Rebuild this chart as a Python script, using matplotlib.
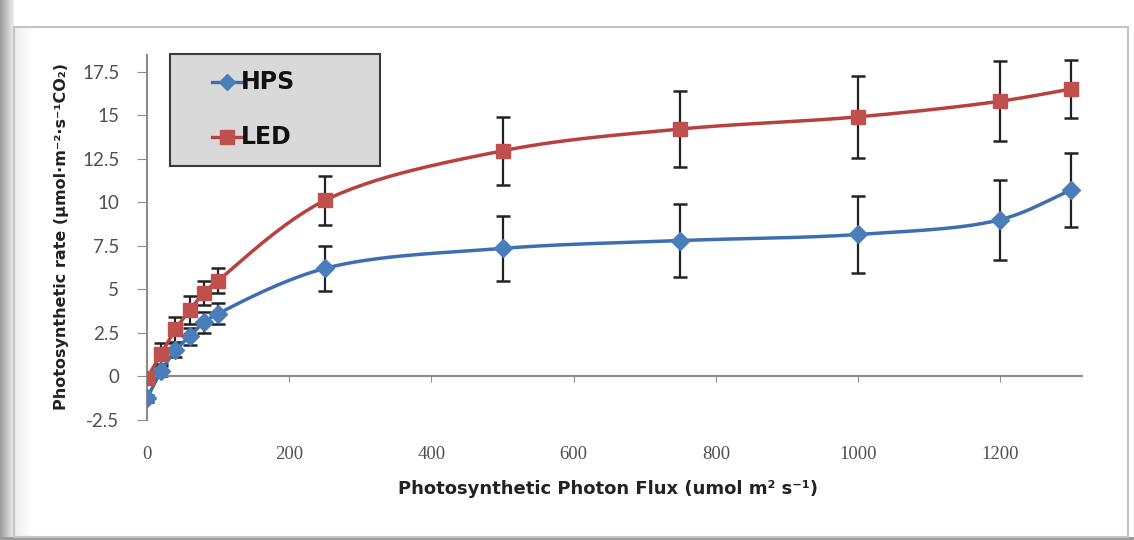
import numpy as np
import matplotlib
matplotlib.use('Agg')
import matplotlib.pyplot as plt
from matplotlib.lines import Line2D
from matplotlib.patches import Rectangle
from matplotlib.transforms import blended_transform_factory

# photon flux levels
ppf = [0, 20, 40, 60, 80, 100, 250, 500, 750, 1000, 1200, 1300]

hps = [-1.25, 0.3, 1.5, 2.3, 3.1, 3.6, 6.2, 7.35, 7.8, 8.15, 9.0, 10.7]
hps_err = [0.2, 0.3, 0.4, 0.5, 0.6, 0.6, 1.3, 1.85, 2.1, 2.2, 2.3, 2.1]

led = [-0.1, 1.3, 2.7, 3.8, 4.8, 5.5, 10.1, 12.95, 14.2, 14.9, 15.8, 16.5]
led_err = [0.3, 0.6, 0.7, 0.8, 0.7, 0.7, 1.4, 1.95, 2.2, 2.35, 2.3, 1.65]

x_ticks = [0, 200, 400, 600, 800, 1000, 1200]
y_ticks = [-2.5, 0, 2.5, 5, 7.5, 10, 12.5, 15, 17.5]

W, H = 1134, 540
XMAX, YMIN, YMAX = 1315, -2.5, 18.45
AX_L, AX_R, AX_T, AX_B = 147, 1082, 55, 420

BLUE = '#4a7ebb'
BLUE_LINE = '#3d6fb0'
RED = '#c0504d'
RED_LINE = '#b8413e'


def fx(px):
    return px / W


def fy(py):
    return 1 - py / H


def smooth(xs, ys, n=30):
    # centripetal catmull-rom through the points, done in pixel space
    sx = (AX_R - AX_L) / XMAX
    sy = (AX_B - AX_T) / (YMAX - YMIN)
    P = np.column_stack([np.array(xs) * sx, np.array(ys) * sy])
    P = np.vstack([2 * P[0] - P[1], P, 2 * P[-1] - P[-2]])
    out = []
    for i in range(1, len(P) - 2):
        p0, p1, p2, p3 = P[i - 1], P[i], P[i + 1], P[i + 2]
        t0 = 0.0
        t1 = t0 + np.linalg.norm(p1 - p0) ** 0.5
        t2 = t1 + np.linalg.norm(p2 - p1) ** 0.5
        t3 = t2 + np.linalg.norm(p3 - p2) ** 0.5
        t = np.linspace(t1, t2, n)[:, None]
        a1 = (t1 - t) / (t1 - t0) * p0 + (t - t0) / (t1 - t0) * p1
        a2 = (t2 - t) / (t2 - t1) * p1 + (t - t1) / (t2 - t1) * p2
        a3 = (t3 - t) / (t3 - t2) * p2 + (t - t2) / (t3 - t2) * p3
        b1 = (t2 - t) / (t2 - t0) * a1 + (t - t0) / (t2 - t0) * a2
        b2 = (t3 - t) / (t3 - t1) * a2 + (t - t1) / (t3 - t1) * a3
        c = (t2 - t) / (t2 - t1) * b1 + (t - t1) / (t2 - t1) * b2
        out.append(c)
    out = np.vstack(out)
    return out[:, 0] / sx, out[:, 1] / sy


fig = plt.figure(figsize=(W / 100, H / 100), dpi=100)
fig.patch.set_facecolor('white')

# page-like surroundings: grey shading at left and bottom, chart frame
for i, c in enumerate(np.linspace(0.62, 0.93, 14)):
    fig.add_artist(Rectangle((fx(i), 0), fx(1), 1, transform=fig.transFigure,
                             facecolor=(c, c, c), edgecolor='none', zorder=0))
for i, c in enumerate(np.linspace(0.93, 1.0, 20)):
    fig.add_artist(Rectangle((fx(14 + i), fy(537)), fx(1), fy(27) - fy(537),
                             transform=fig.transFigure,
                             facecolor=(c, c, c), edgecolor='none', zorder=0))
fig.add_artist(Rectangle((0, 0), 1, fy(537), transform=fig.transFigure,
                         facecolor='#9a9a9a', edgecolor='none', zorder=0))
fig.add_artist(Rectangle((fx(14), fy(537)), fx(1128 - 14), fy(27) - fy(537),
                         transform=fig.transFigure, facecolor='none',
                         edgecolor='#c4c4c4', lw=1.5, zorder=1))

ax = fig.add_axes([fx(AX_L), fy(AX_B), fx(AX_R - AX_L), fy(AX_T) - fy(AX_B)])
ax.set_facecolor('none')

for vals, err, mcol, lcol, mk, ms in [(hps, hps_err, BLUE, BLUE_LINE, 'D', 9),
                                      (led, led_err, RED, RED_LINE, 's', 10.5)]:
    ax.errorbar(ppf, vals, yerr=err, fmt='none', ecolor='#222222',
                elinewidth=1.6, capsize=5, capthick=1.8, zorder=2)
    sx_, sy_ = smooth(ppf, vals)
    ax.plot(sx_, sy_, color=lcol, lw=2.5, zorder=3, solid_capstyle='round')
    ax.plot(ppf, vals, linestyle='none', marker=mk, ms=ms, color=mcol,
            markeredgecolor=mcol, zorder=4)

ax.set_xlim(0, XMAX)
ax.set_ylim(YMIN, YMAX)

for s in ['top', 'right']:
    ax.spines[s].set_visible(False)
ax.spines['bottom'].set_position(('data', 0))
for s in ['left', 'bottom']:
    ax.spines[s].set_color('#8c8c8c')
    ax.spines[s].set_linewidth(1.5)

ax.set_xticks(x_ticks)
ax.tick_params(axis='x', direction='out', length=4, color='#8c8c8c',
               labelbottom=False)
trans = blended_transform_factory(ax.transData, ax.transAxes)
for v in x_ticks:
    ax.text(v, -0.07, str(v), transform=trans, ha='center', va='top',
            fontsize=13.5, family='Liberation Serif', color='#505050')

ax.set_yticks(y_ticks)
ax.set_yticklabels(['%g' % v for v in y_ticks])
ax.tick_params(axis='y', direction='out', length=7, color='#8c8c8c',
               pad=13, labelsize=13.5, labelcolor='#505050')
for lab in ax.get_yticklabels():
    lab.set_family(['Lato', 'DejaVu Sans'])

fig.text(fx(608), fy(489), 'Photosynthetic Photon Flux (umol m\u00b2 s\u207b\u00b9)',
         ha='center', va='center', fontsize=13, fontweight='bold',
         family='DejaVu Sans', color='#222222')
fig.text(fx(62), fy(236), 'Photosynthetic rate (\u03bcmol\u00b7m\u207b\u00b2\u00b7s\u207b\u00b9CO\u2082)',
         ha='center', va='center', rotation=90, fontsize=11.5, fontweight='bold',
         family='DejaVu Sans', color='#222222')

# legend box
fig.add_artist(Rectangle((fx(170), fy(166)), fx(380 - 170), fy(54) - fy(166),
                         transform=fig.transFigure, facecolor='#d9d9d9',
                         edgecolor='#3a3a3a', lw=1.5, zorder=5))
for name, yy, mcol, lcol, mk, ms in [('HPS', 82, BLUE, BLUE_LINE, 'D', 8.5),
                                     ('LED', 137, RED, RED_LINE, 's', 10)]:
    fig.add_artist(Line2D([fx(212), fx(242)], [fy(yy), fy(yy)],
                          transform=fig.transFigure, color=lcol, lw=2.4, zorder=6))
    fig.add_artist(Line2D([fx(227)], [fy(yy)], transform=fig.transFigure,
                          marker=mk, ms=ms, color=mcol, linestyle='none', zorder=7))
    fig.text(fx(241), fy(yy), name, ha='left', va='center', fontsize=17,
             fontweight='bold', family='DejaVu Sans', color='#111111',
             zorder=7)

fig.savefig('out.png', dpi=100)
